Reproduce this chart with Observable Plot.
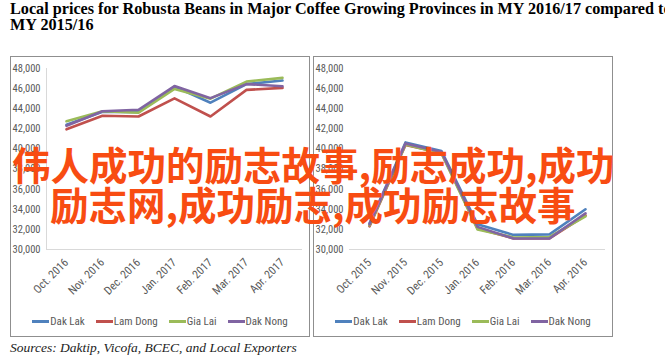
<!DOCTYPE html>
<html>
<head>
<meta charset="utf-8">
<script src="https://cdn.jsdelivr.net/npm/d3@7"></script>
<script src="https://cdn.jsdelivr.net/npm/@observablehq/plot@0.6"></script>
<style>
  html, body { margin: 0; padding: 0; background: #fff; }
  #page { position: relative; width: 665px; height: 359px; overflow: hidden; }
  #title { position: absolute; left: 10px; top: 1px; width: 655px; font-family: "Liberation Serif", "Times New Roman", serif; font-weight: bold; font-size: 16.2px; line-height: 16px; color: #000; white-space: nowrap; }
  .panel { position: absolute; top: 56px; width: 300px; height: 281px; border: 1px solid #8f8f8f; box-sizing: border-box; background: #fff; }
  .panel svg { position: absolute; left: 0; top: 0; }
  .legend { position: absolute; left: 0; right: 0; top: 258px; display: flex; justify-content: center; gap: 11px; font-family: "Liberation Sans Narrow", "Roboto Condensed", "Arial Narrow", sans-serif; font-size: 11px; color: #595959; }
  .legend .item { display: flex; align-items: center; }
  .legend .sw { display: inline-block; width: 17px; height: 2.5px; margin-right: 1px; }
  #caption { position: absolute; left: 10px; top: 340px; font-family: "Liberation Serif", "Times New Roman", serif; font-style: italic; font-size: 13.5px; color: #222; white-space: nowrap; }
  #watermark { position: absolute; left: 0; top: 143px; font-family: "Noto Sans CJK SC", sans-serif; font-weight: bold; font-size: 38.5px; line-height: 40px; color: #f84c12; white-space: nowrap; }
  #watermark div { position: relative; }
</style>
</head>
<body>
<div id="page">
  <div id="title">Local prices for Robusta Beans in Major Coffee Growing Provinces in MY 2016/17 compared to<br>MY 2015/16</div>
  <div class="panel" id="left" style="left:10px"></div>
  <div class="panel" id="right" style="left:313px"></div>
  <div id="caption">Sources: Daktip, Vicofa, BCEC, and Local Exporters</div>
  <div id="watermark">
    <div style="left:12px">伟人成功的励志故事,励志成功,成功</div>
    <div style="left:50px">励志网,成功励志,成功励志故事</div>
  </div>
</div>
<script>
const provinces = ["Dak Lak", "Lam Dong", "Gia Lai", "Dak Nong"];
const colors = ["#4F81BD", "#C0504D", "#9BBB59", "#8064A2"];
const yTicks = [30000, 32000, 34000, 36000, 38000, 40000, 42000, 44000, 46000, 48000];

const months1617 = ["Oct. 2016", "Nov. 2016", "Dec. 2016", "Jan. 2017", "Feb. 2017", "Mar. 2017", "Apr. 2017"];
const dakLak1617   = [42400, 43700, 43650, 46200, 44600, 46450, 46800];
const lamDong1617  = [41950, 43300, 43230, 45030, 43230, 45870, 46070];
const giaLai1617   = [42750, 43750, 43600, 45970, 45000, 46700, 47070];
const dakNong1617  = [42300, 43750, 43900, 46250, 45050, 46450, 46230];

const months1516 = ["Oct. 2015", "Nov. 2015", "Dec. 2015", "Jan. 2016", "Feb. 2016", "Mar. 2016", "Apr. 2016"];
const dakLak1516   = [32600, 40650, 39800, 32500, 31450, 31500, 34000];
const lamDong1516  = [32300, 40400, 39600, 32100, 31100, 31100, 33400];
const giaLai1516   = [32400, 40450, 39550, 32000, 31200, 31250, 33300];
const dakNong1516  = [32500, 40550, 39700, 32250, 31100, 31100, 33600];

const tickFont = '"Liberation Sans Narrow", "Roboto Condensed", "Arial Narrow", sans-serif';

function rows(months, series) {
  const out = [];
  series.forEach((vals, i) => vals.forEach((v, j) => out.push({province: provinces[i], month: months[j], value: v})));
  return out;
}

function panel(el, months, series, leftLine) {
  const data = rows(months, series);
  const marks = [
    Plot.ruleY([30000], {stroke: "#d9d9d9", strokeWidth: 1}),
    Plot.lineY(data, {x: "month", y: "value", z: "province", stroke: "province", strokeWidth: 2.6, strokeLinejoin: "round", strokeLinecap: "round"}),
    Plot.axisY(yTicks, {tickSize: 0, tickPadding: 6, tickFormat: d3.format(","), fontSize: 10.5, fill: "#595959"}),
    Plot.axisX({tickSize: 0, tickPadding: 11, tickRotate: -45, fontSize: 11.5, fill: "#595959"})
  ];
  if (leftLine) marks.unshift(Plot.frame({anchor: "left", stroke: "#d9d9d9"}));
  const chart = Plot.plot({
    width: 298, height: 250,
    marginLeft: 35, marginRight: 7, marginTop: 11, marginBottom: 58,
    style: {fontFamily: tickFont, background: "transparent"},
    x: {type: "point", domain: months, label: null},
    y: {domain: [30000, 48000], label: null},
    color: {domain: provinces, range: colors},
    marks
  });
  el.appendChild(chart);
  const leg = document.createElement("div");
  leg.className = "legend";
  provinces.forEach((p, i) => {
    const it = document.createElement("div");
    it.className = "item";
    it.innerHTML = `<span class="sw" style="background:${colors[i]}"></span><span>${p}</span>`;
    leg.appendChild(it);
  });
  el.appendChild(leg);
}

panel(document.getElementById("left"), months1617, [dakLak1617, lamDong1617, giaLai1617, dakNong1617], true);
panel(document.getElementById("right"), months1516, [dakLak1516, lamDong1516, giaLai1516, dakNong1516], false);
</script>
</body>
</html>
